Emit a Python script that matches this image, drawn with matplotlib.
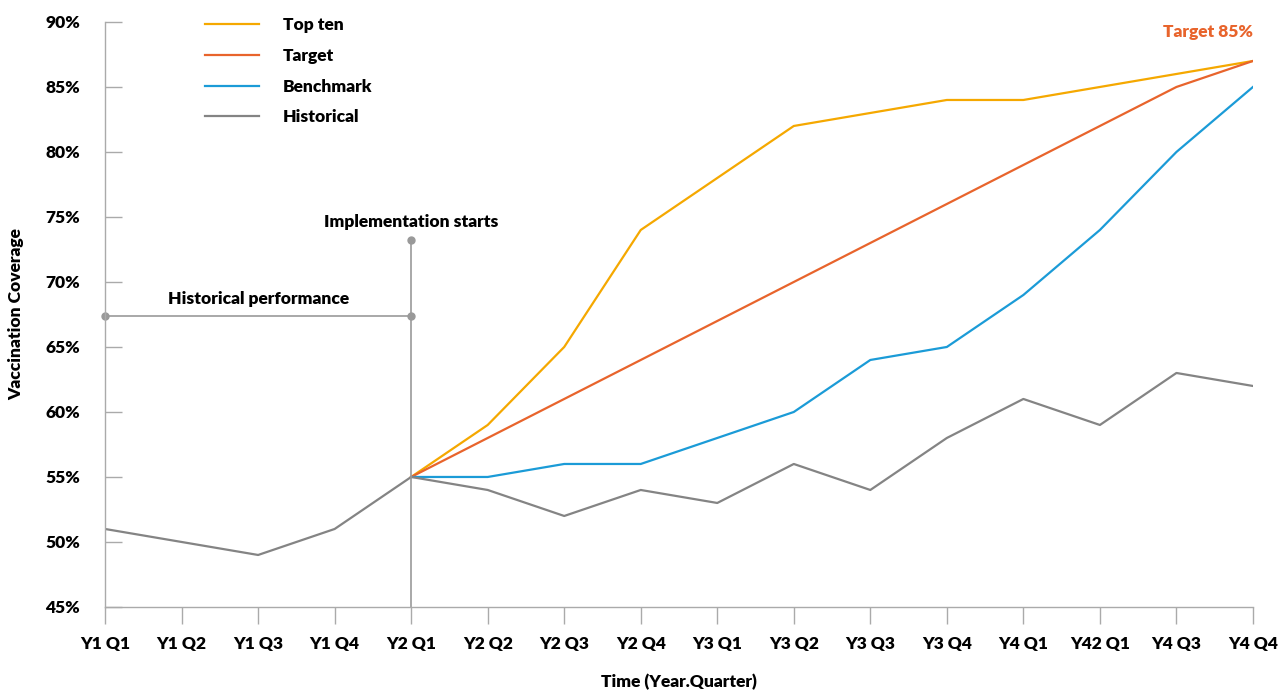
import matplotlib.pyplot as plt

quarters = ['Y1 Q1', 'Y1 Q2', 'Y1 Q3', 'Y1 Q4', 'Y2 Q1', 'Y2 Q2', 'Y2 Q3', 'Y2 Q4',
            'Y3 Q1', 'Y3 Q2', 'Y3 Q3', 'Y3 Q4', 'Y4 Q1', 'Y42 Q1', 'Y4 Q3', 'Y4 Q4']

# historical covers all quarters, the projections start at Y2 Q1
historical = [51, 50, 49, 51, 55, 54, 52, 54, 53, 56, 54, 58, 61, 59, 63, 62]
top_ten = [55, 59, 65, 74, 78, 82, 83, 84, 84, 85, 86, 87]
target = [55, 58, 61, 64, 67, 70, 73, 76, 79, 82, 85, 87]
benchmark = [55, 55, 56, 56, 58, 60, 64, 65, 69, 74, 80, 85]

yticks = [45, 50, 55, 60, 65, 70, 75, 80, 85, 90]

plt.rcParams['font.family'] = ['Lato', 'DejaVu Sans']
plt.rcParams['font.weight'] = 'heavy'
fs = 12.5

fig = plt.figure(figsize=(12.86, 6.91), dpi=100)
ax = fig.add_axes([0.0817, 0.1216, 0.8926, 0.8466])

x_all = list(range(len(quarters)))
x_proj = x_all[4:]

ax.plot(x_proj, top_ten, color='#F5A800', lw=1.6, label='Top ten')
ax.plot(x_proj, target, color='#E8642C', lw=1.6, label='Target')
ax.plot(x_proj, benchmark, color='#1B9BD7', lw=1.6, label='Benchmark')
ax.plot(x_all, historical, color='#848484', lw=1.6, label='Historical')

ax.set_xlim(0, len(quarters) - 1)
ax.set_ylim(45, 90)
ax.set_xticks(x_all)
ax.set_xticklabels(quarters)
ax.set_yticks(yticks)
ax.set_yticklabels([f'{v}%' for v in yticks])

for s in ['top', 'right']:
    ax.spines[s].set_visible(False)
for s in ['left', 'bottom']:
    ax.spines[s].set_color('#aaaaaa')
    ax.spines[s].set_linewidth(1)

ax.tick_params(axis='y', direction='in', length=12, width=1, color='#aaaaaa',
               pad=18, labelsize=fs)
ax.tick_params(axis='x', direction='out', length=12, width=1, color='#aaaaaa',
               pad=9, labelsize=fs)

ax.set_xlabel('Time (Year.Quarter)', fontsize=fs, fontweight='heavy', labelpad=15.5)
ax.set_ylabel('Vaccination Coverage', fontsize=fs, fontweight='heavy', labelpad=15)

# annotations
grey = '#999999'
ax.plot([4, 4], [45, 73.2], color=grey, lw=1.2)
ax.plot([4], [73.2], 'o', color=grey, ms=5)
ax.text(4, 74.0, 'Implementation starts', ha='center', va='bottom', fontsize=fs,
        fontweight='heavy')
ax.plot([0, 4], [67.4, 67.4], color=grey, lw=1.2, marker='o', ms=5, clip_on=False)
ax.text(2, 68.1, 'Historical performance', ha='center', va='bottom', fontsize=fs,
        fontweight='heavy')
ax.text(15, 89.2, 'Target 85%', ha='right', va='center', fontsize=fs,
        fontweight='heavy', color='#E8642C')

ax.legend(loc='upper left', bbox_to_anchor=(0.0735, 1.035), frameon=False,
          fontsize=fs, handlelength=3.1, handletextpad=1.4, labelspacing=0.85)

fig.savefig('out.png', dpi=100)
